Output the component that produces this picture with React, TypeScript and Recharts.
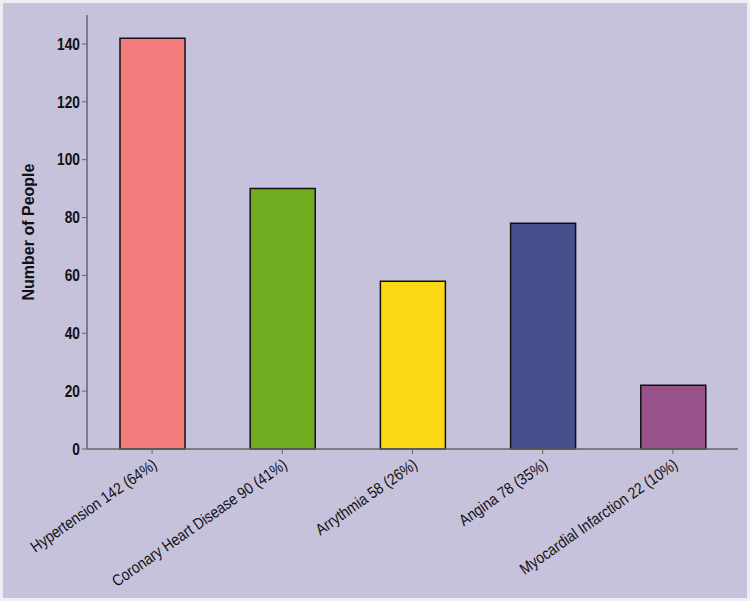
import { BarChart, Bar, XAxis, YAxis, Cell } from "recharts";

const conditions = [
  "Hypertension",
  "Coronary Heart Disease",
  "Arrythmia",
  "Angina",
  "Myocardial Infarction",
];
const people = [142, 90, 58, 78, 22];
const shares = [64, 41, 26, 35, 10];
const barColors = ["#F47C7C", "#72AD21", "#FDD913", "#47508C", "#985189"];
const yTicks = [0, 20, 40, 60, 80, 100, 120, 140];

const data = conditions.map((name, i) => ({
  label: `${name} ${people[i]} (${shares[i]}%)`,
  people: people[i],
}));

const FONT = "'Liberation Sans', Arial, sans-serif";

// condensed look: bigger font squeezed horizontally
function AngledTick(props: any) {
  const { x, y, payload } = props;
  return (
    <text
      x={0}
      y={0}
      textAnchor="end"
      fontSize={16}
      fontFamily={FONT}
      fill="#111"
      transform={`translate(${x + 6}, ${y + 11}) rotate(-35) scale(0.87, 1)`}
    >
      {payload.value}
    </text>
  );
}

function YTick(props: any) {
  const { x, y, payload } = props;
  return (
    <text
      x={0}
      y={0}
      dy="0.36em"
      textAnchor="end"
      fontSize={16}
      fontWeight={700}
      fontFamily={FONT}
      fill="#111"
      transform={`translate(${x}, ${y}) scale(0.86, 1)`}
    >
      {payload.value}
    </text>
  );
}

export default function App() {
  return (
    <div
      style={{
        position: "absolute",
        left: 0,
        top: 0,
        width: 750,
        height: 601,
        background: "#C7C2DC",
        boxSizing: "border-box",
        border: "3px solid #EEEDF3",
      }}
    >
      <BarChart
        width={744}
        height={595}
        data={data}
        margin={{ top: 12, right: 9, left: 0, bottom: 0 }}
      >
        <XAxis
          dataKey="label"
          interval={0}
          height={149}
          tick={<AngledTick />}
          tickSize={5}
          axisLine={{ stroke: "#666", strokeWidth: 1.5 }}
          tickLine={{ stroke: "#666" }}
        />
        <YAxis
          width={84}
          domain={[0, 150]}
          ticks={yTicks}
          tickSize={5}
          axisLine={{ stroke: "#666", strokeWidth: 1.5 }}
          tickLine={{ stroke: "#666" }}
          tick={<YTick />}
          label={{
            value: "Number of People",
            angle: -90,
            position: "insideLeft",
            offset: 25,
            style: {
              fontSize: 16,
              fontWeight: 700,
              fill: "#111",
              fontFamily: FONT,
              textAnchor: "middle",
            },
          }}
        />
        <Bar
          dataKey="people"
          barSize={65}
          fill="#F47C7C"
          stroke="#111"
          strokeWidth={1.5}
          isAnimationActive={false}
        >
          {data.map((_, i) => (
            <Cell key={i} fill={barColors[i]} />
          ))}
        </Bar>
      </BarChart>
    </div>
  );
}
